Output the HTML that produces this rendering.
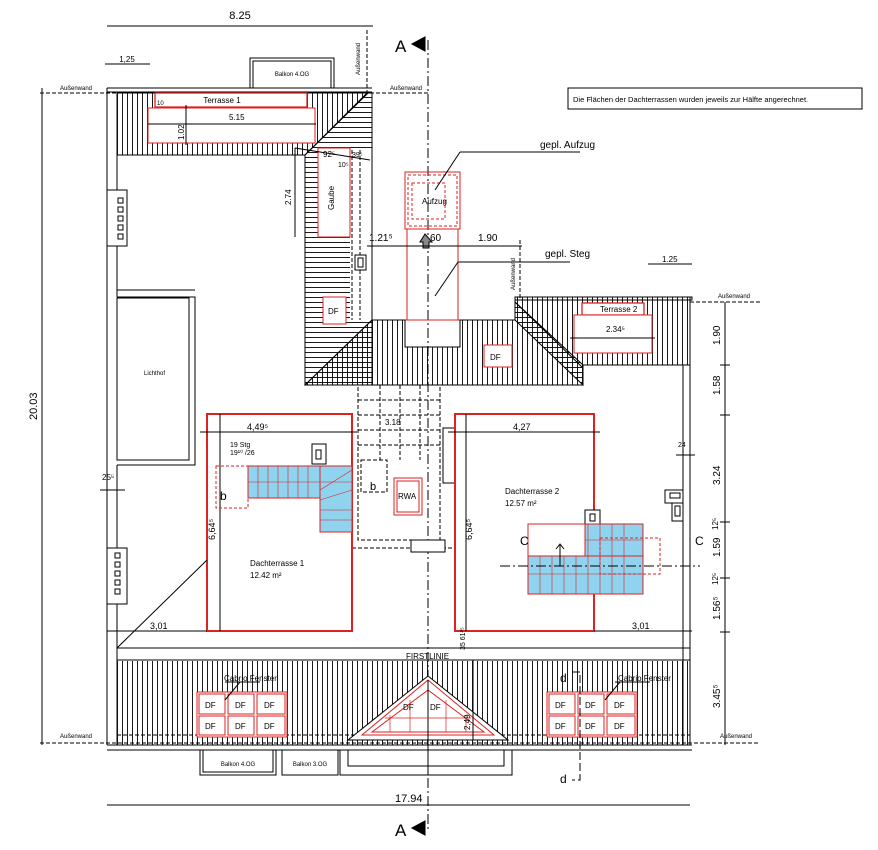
<!DOCTYPE html>
<html><head><meta charset="utf-8"><style>
html,body{margin:0;padding:0;background:#fff;}
svg{display:block;font-family:"Liberation Sans",sans-serif;}
</style></head><body>
<svg width="878" height="850" viewBox="0 0 878 850" xmlns="http://www.w3.org/2000/svg">
<defs>
<pattern id="vh" width="5" height="10" patternUnits="userSpaceOnUse"><line x1="2.5" y1="0" x2="2.5" y2="10" stroke="#000" stroke-width="0.9"/></pattern>
<pattern id="hh" width="10" height="5" patternUnits="userSpaceOnUse"><line x1="0" y1="2.5" x2="10" y2="2.5" stroke="#000" stroke-width="0.9"/></pattern>
</defs>
<rect width="878" height="850" fill="#fff"/>
<g stroke="#000" fill="none" stroke-width="1">
<!-- top dims -->
<line x1="107" y1="26" x2="373" y2="26"/><text x="240" y="19" font-size="11" text-anchor="middle" stroke="none" fill="#000">8.25</text>
<line x1="105" y1="64" x2="150" y2="64"/><text x="127" y="62" font-size="8" text-anchor="middle" stroke="none" fill="#000">1,25</text>
<rect x="250" y="58" width="84" height="30"/><rect x="253" y="61" width="78" height="27"/>
<text x="292" y="76" font-size="6" text-anchor="middle" stroke="none" fill="#000">Balkon 4.OG</text>
<!-- section A -->
<line x1="428" y1="40" x2="428" y2="830" stroke-dasharray="10,3,2,3"/>
<line x1="367" y1="30" x2="367" y2="92" stroke-dasharray="4,2"/>
<text x="360" y="75" font-size="6" transform="rotate(-90 360 75)" stroke="none" fill="#000">Außenwand</text>
<text x="395" y="52" font-size="17" stroke="none" fill="#000">A</text><polygon points="412,44 425,37 425,51" fill="#000"/>
<text x="395" y="836" font-size="17" stroke="none" fill="#000">A</text><polygon points="412,828 425,821 425,835" fill="#000"/>
<!-- outer dashed walls -->
<line x1="40" y1="93" x2="430" y2="93" stroke-dasharray="4,2"/>
<text x="60" y="90" font-size="6" stroke="none" fill="#000">Außenwand</text>
<text x="390" y="90" font-size="6" stroke="none" fill="#000">Außenwand</text>
<line x1="40" y1="743" x2="760" y2="743" stroke-dasharray="4,2"/>
<text x="60" y="738" font-size="6" stroke="none" fill="#000">Außenwand</text>
<text x="720" y="738" font-size="6" stroke="none" fill="#000">Außenwand</text>
<line x1="690" y1="302" x2="760" y2="302" stroke-dasharray="4,2"/>
<text x="718" y="298" font-size="6" stroke="none" fill="#000">Außenwand</text>
<!-- note box -->
<rect x="568" y="88" width="294" height="21"/>
<text x="573" y="102" font-size="7.5" stroke="none" fill="#000">Die Flächen der Dachterrassen wurden jeweils zur Hälfte angerechnet.</text>
<!-- left dims -->
<line x1="42" y1="88" x2="42" y2="745"/><text x="37" y="420" font-size="11" transform="rotate(-90 37 420)" stroke="none" fill="#000">20.03</text>
<line x1="100" y1="490" x2="125" y2="490"/><text x="102" y="480" font-size="8" stroke="none" fill="#000">25⁵</text>
<!-- outer walls -->
<line x1="107" y1="88" x2="372" y2="88"/>
<line x1="107" y1="88" x2="107" y2="745"/><line x1="117" y1="92" x2="117" y2="297"/>
<line x1="107" y1="92" x2="372" y2="92"/>
<line x1="117" y1="465" x2="117" y2="745"/>
<!-- top hatched band -->
<polygon points="117,93 368,93 305,155 117,155" fill="url(#vh)"/>
<polygon points="368,93 372,93 372,385 305,385 305,155" fill="url(#hh)"/>
<line x1="117" y1="155" x2="305" y2="155"/>
<line x1="368" y1="92" x2="305" y2="155"/>
<line x1="305" y1="155" x2="305" y2="385"/>
<rect x="350" y="150" width="22" height="170" fill="#fff" stroke="none"/>
<line x1="352" y1="150" x2="352" y2="320" stroke-dasharray="4,2"/><line x1="360" y1="150" x2="360" y2="320" stroke-dasharray="4,2"/>
<line x1="372" y1="92" x2="372" y2="320"/>
<!-- terrasse 1 -->
<rect x="155" y="93" width="152" height="14" fill="#fff" stroke="#d22" stroke-width="1.3"/>
<text x="222" y="103" font-size="8" text-anchor="middle" stroke="none" fill="#000">Terrasse 1</text>
<rect x="148" y="108" width="167" height="35" fill="#fff" stroke="#d22"/>
<line x1="148" y1="108" x2="315" y2="108" stroke="#d22" stroke-dasharray="4,2"/>
<line x1="148" y1="124" x2="316" y2="124"/><text x="229" y="120" font-size="8" stroke="none" fill="#000">5.15</text>
<line x1="186" y1="105" x2="186" y2="145"/><text x="184" y="140" font-size="8" transform="rotate(-90 184 140)" stroke="none" fill="#000">1.02</text>
<text x="157" y="105" font-size="6" stroke="none" fill="#000">10</text>
<!-- gaube -->
<rect x="318" y="148" width="32" height="89" fill="#fff" stroke="#d22"/>
<text x="334" y="210" font-size="8" transform="rotate(-90 334 210)" stroke="none" fill="#000">Gaube</text>
<text x="323" y="157" font-size="8" stroke="none" fill="#000">92⁵</text><text x="338" y="167" font-size="7" stroke="none" fill="#000">10⁵</text><text x="352" y="157" font-size="7" stroke="none" fill="#000">39⁵</text>
<line x1="295" y1="148" x2="370" y2="160"/>
<line x1="295" y1="148" x2="295" y2="237"/><text x="291" y="205" font-size="8" transform="rotate(-90 291 205)" stroke="none" fill="#000">2.74</text>
<rect x="355" y="255" width="11" height="15" fill="#fff"/><rect x="358" y="258" width="5" height="9"/>
<rect x="323" y="297" width="23" height="27" fill="#fff" stroke="#d22"/><text x="328" y="314" font-size="8" stroke="none" fill="#000">DF</text>
<!-- left side windows / lichthof -->
<rect x="107" y="190" width="20" height="56" fill="#fff"/>
<g><rect x="118" y="198" width="5" height="5"/><rect x="118" y="207" width="5" height="5"/><rect x="118" y="216" width="5" height="5"/><rect x="118" y="225" width="5" height="5"/><rect x="118" y="234" width="5" height="5"/></g>
<rect x="107" y="548" width="20" height="56" fill="#fff"/>
<g><rect x="115" y="553" width="5" height="5"/><rect x="115" y="562" width="5" height="5"/><rect x="115" y="571" width="5" height="5"/><rect x="115" y="580" width="5" height="5"/><rect x="115" y="589" width="5" height="5"/></g>
<path d="M117,297 L195,297 L195,465 L117,465"/>
<path d="M117,290 L195,290" />
<rect x="117" y="298" width="72" height="162"/>
<text x="144" y="375" font-size="6" stroke="none" fill="#000">Lichthof</text>
<!-- aufzug -->
<rect x="405" y="172" width="55" height="57" stroke="#d22"/><rect x="408" y="175" width="49" height="51" stroke="#d22" stroke-dasharray="3,2"/>
<rect x="412" y="183" width="33" height="36" stroke="#d22" stroke-dasharray="3,2"/>
<text x="422" y="204" font-size="8" stroke="none" fill="#000">Aufzug</text>
<rect x="407" y="229" width="51" height="91" stroke="#d22"/>
<rect x="405" y="320" width="55" height="27" stroke="#d22"/>
<polygon points="425,234 420,242 423,242 423,248 429,248 429,242 432,242" fill="#888"/>
<line x1="435" y1="190" x2="460" y2="152"/><line x1="460" y1="152" x2="580" y2="152"/>
<text x="540" y="148" font-size="10" stroke="none" fill="#000">gepl. Aufzug</text>
<line x1="435" y1="296" x2="458" y2="262"/><line x1="458" y1="262" x2="570" y2="262"/>
<text x="545" y="257" font-size="10" stroke="none" fill="#000">gepl. Steg</text>
<line x1="367" y1="246" x2="522" y2="246"/>
<text x="369" y="241" font-size="10" stroke="none" fill="#000">1.21⁵</text><text x="430" y="241" font-size="10" stroke="none" fill="#000">60</text><text x="478" y="241" font-size="10" stroke="none" fill="#000">1.90</text>
<line x1="520" y1="240" x2="520" y2="300" stroke-dasharray="4,2"/>
<text x="515" y="290" font-size="6" transform="rotate(-90 515 290)" stroke="none" fill="#000">Außenwand</text>
<line x1="648" y1="264" x2="692" y2="264"/><text x="662" y="262" font-size="8" stroke="none" fill="#000">1.25</text>
<!-- middle roof -->
<polygon points="372,320 405,320 405,347 460,347 460,320 515,320 515,297 690,297 690,365 583,365 583,385 305,385" fill="url(#vh)"/>
<polygon points="515,302 583,365 583,385 515,320" fill="url(#hh)"/>
<line x1="515" y1="302" x2="583" y2="368"/>
<line x1="372" y1="320" x2="305" y2="385"/>
<line x1="305" y1="385" x2="583" y2="385"/>
<rect x="515" y="297" width="177" height="3"/>
<rect x="484" y="345" width="28" height="22" fill="#fff" stroke="#d22"/><text x="490" y="360" font-size="8" stroke="none" fill="#000">DF</text>
<!-- terrasse 2 -->
<rect x="582" y="303" width="62" height="12" fill="#fff" stroke="#d22" stroke-width="1.3"/>
<text x="600" y="312" font-size="8" stroke="none" fill="#000">Terrasse 2</text>
<rect x="574" y="315" width="78" height="38" fill="#fff" stroke="#d22"/>
<line x1="570" y1="338" x2="655" y2="338"/><text x="606" y="332" font-size="8" stroke="none" fill="#000">2.34⁵</text>
<!-- right wall -->
<line x1="683" y1="365" x2="683" y2="745"/><line x1="690" y1="297" x2="690" y2="745"/>
<rect x="665" y="490" width="18" height="13" fill="#fff"/><rect x="670" y="493" width="10" height="5"/>
<rect x="672" y="503" width="11" height="18" fill="#fff"/><rect x="675" y="506" width="5" height="10"/>
<text x="678" y="447" font-size="7" stroke="none" fill="#000">24</text>
<line x1="676" y1="455" x2="695" y2="455"/>
<!-- right dims -->
<line x1="725" y1="302" x2="725" y2="745"/>
<g font-size="10" stroke="none" fill="#000">
<text x="720" y="345" transform="rotate(-90 720 345)">1.90</text>
<text x="720" y="395" transform="rotate(-90 720 395)">1.58</text>
<text x="720" y="485" transform="rotate(-90 720 485)">3.24</text>
<text x="718" y="530" transform="rotate(-90 718 530)" font-size="8">12⁵</text>
<text x="720" y="557" transform="rotate(-90 720 557)">1.59</text>
<text x="718" y="585" transform="rotate(-90 718 585)" font-size="8">12⁵</text>
<text x="720" y="620" transform="rotate(-90 720 620)">1.56⁵</text>
<text x="720" y="708" transform="rotate(-90 720 708)">3.45⁵</text>
</g>
<g stroke-width="1"><line x1="720" y1="365" x2="730" y2="365"/><line x1="720" y1="415" x2="730" y2="415"/><line x1="720" y1="522" x2="730" y2="522"/><line x1="720" y1="578" x2="730" y2="578"/><line x1="720" y1="632" x2="730" y2="632"/></g>
<!-- central stairs dashed -->
<g stroke-dasharray="4,2">
<rect x="358" y="385" width="82" height="155"/>
<rect x="361" y="460" width="26" height="32"/>
<line x1="380" y1="385" x2="380" y2="460"/><line x1="400" y1="385" x2="400" y2="460"/><line x1="420" y1="385" x2="420" y2="460"/>
<line x1="358" y1="400" x2="440" y2="400"/><line x1="358" y1="415" x2="440" y2="415"/><line x1="358" y1="430" x2="440" y2="430"/><line x1="358" y1="445" x2="440" y2="445"/>
<line x1="352" y1="548" x2="455" y2="548"/>
</g>
<rect x="394" y="478" width="28" height="37" stroke="#d22"/><rect x="397" y="481" width="22" height="31" stroke="#d22"/>
<text x="398" y="499" font-size="8" stroke="none" fill="#000">RWA</text>
<rect x="411" y="540" width="34" height="12" fill="#fff"/>
<rect x="443" y="428" width="12" height="55" fill="#fff"/>
<text x="370" y="490" font-size="11" stroke="none" fill="#000">b</text><text x="385" y="425" font-size="8" stroke="none" fill="#000">3.18</text>
<!-- dachterrasse 1 -->
<rect x="207" y="414" width="145" height="217" stroke="#d22" stroke-width="2"/>
<line x1="200" y1="432" x2="357" y2="432"/><text x="247" y="430" font-size="9" stroke="none" fill="#000">4,49⁵</text>
<line x1="220" y1="414" x2="220" y2="631"/>
<text x="230" y="447" font-size="7" stroke="none" fill="#000">19 Stg</text><text x="230" y="455" font-size="7" stroke="none" fill="#000">19¹⁰ /26</text>
<rect x="248" y="466" width="72" height="32" fill="#8fd3ee" stroke="#d22"/>
<rect x="320" y="466" width="32" height="66" fill="#8fd3ee" stroke="#d22"/>
<rect x="216" y="466" width="32" height="42" stroke="#d22" stroke-dasharray="3,2"/>
<g stroke="#d22" stroke-width="0.6"><line x1="258" y1="466" x2="258" y2="498"/><line x1="268" y1="466" x2="268" y2="498"/><line x1="278" y1="466" x2="278" y2="498"/><line x1="288" y1="466" x2="288" y2="498"/><line x1="298" y1="466" x2="298" y2="498"/><line x1="308" y1="466" x2="308" y2="498"/><line x1="320" y1="490" x2="352" y2="470"/><line x1="320" y1="500" x2="352" y2="490"/><line x1="320" y1="510" x2="352" y2="510"/><line x1="320" y1="520" x2="352" y2="520"/><line x1="248" y1="482" x2="352" y2="482"/></g>
<rect x="312" y="444" width="14" height="20" fill="#fff"/><rect x="316" y="450" width="5" height="9"/>
<text x="220" y="500" font-size="12" stroke="none" fill="#000">b</text>
<text x="250" y="566" font-size="8" stroke="none" fill="#000">Dachterrasse 1</text><text x="250" y="578" font-size="8" stroke="none" fill="#000">12.42 m²</text>
<text x="215" y="540" font-size="9" transform="rotate(-90 215 540)" stroke="none" fill="#000">6,64⁵</text>
<!-- dachterrasse 2 -->
<rect x="455" y="414" width="139" height="217" stroke="#d22" stroke-width="2"/>
<line x1="448" y1="432" x2="600" y2="432"/><text x="513" y="430" font-size="9" stroke="none" fill="#000">4,27</text>
<line x1="466" y1="414" x2="466" y2="631"/>
<text x="505" y="494" font-size="8" stroke="none" fill="#000">Dachterrasse 2</text><text x="505" y="506" font-size="8" stroke="none" fill="#000">12.57 m²</text>
<text x="472" y="540" font-size="9" transform="rotate(-90 472 540)" stroke="none" fill="#000">6,64⁵</text>
<rect x="585" y="510" width="15" height="14" fill="#fff"/><rect x="590" y="514" width="5" height="7"/>
<rect x="528" y="524" width="72" height="32" fill="#fff" stroke="#d22"/>
<rect x="585" y="524" width="58" height="32" fill="#8fd3ee" stroke="#d22"/>
<rect x="528" y="556" width="115" height="38" fill="#8fd3ee" stroke="#d22"/>
<rect x="600" y="538" width="60" height="36" stroke="#d22" stroke-dasharray="3,2"/>
<g stroke="#d22" stroke-width="0.6"><line x1="540" y1="556" x2="540" y2="594"/><line x1="552" y1="556" x2="552" y2="594"/><line x1="564" y1="556" x2="564" y2="594"/><line x1="576" y1="556" x2="576" y2="594"/><line x1="588" y1="524" x2="588" y2="594"/><line x1="600" y1="524" x2="600" y2="594"/><line x1="612" y1="524" x2="612" y2="594"/><line x1="624" y1="524" x2="624" y2="594"/><line x1="528" y1="574" x2="643" y2="574"/><line x1="585" y1="540" x2="643" y2="540"/></g>
<line x1="500" y1="566" x2="700" y2="566" stroke-dasharray="10,3,2,3"/>
<path d="M560,566 L560,545 M556,549 L560,544 L564,549"/>
<text x="520" y="545" font-size="12" stroke="none" fill="#000">C</text><text x="695" y="545" font-size="12" stroke="none" fill="#000">C</text>
<!-- 3.01 dims -->
<line x1="107" y1="631" x2="207" y2="631"/><text x="150" y="629" font-size="9" stroke="none" fill="#000">3,01</text>
<line x1="594" y1="631" x2="692" y2="631"/><text x="632" y="629" font-size="9" stroke="none" fill="#000">3,01</text>
<line x1="117" y1="648" x2="207" y2="560"/>
<!-- firstlinie & bottom roof -->
<rect x="117" y="648" width="573" height="12"/>
<text x="406" y="659" font-size="8" stroke="none" fill="#000">FIRSTLINIE</text>
<text x="465" y="650" font-size="7" transform="rotate(-90 465 650)" stroke="none" fill="#000">35 61²⁵</text>
<rect x="117" y="661" width="573" height="84" fill="url(#vh)" stroke="none"/>
<line x1="107" y1="745" x2="692" y2="745"/><line x1="107" y1="750" x2="692" y2="750"/>
<line x1="117" y1="735" x2="690" y2="735" stroke-dasharray="4,2"/>
<!-- DF groups -->
<g stroke="#d22" fill="#fff">
<rect x="197" y="692" width="90" height="45"/>
<rect x="199" y="694" width="26" height="20"/><rect x="228" y="694" width="26" height="20"/><rect x="257" y="694" width="28" height="20"/>
<rect x="199" y="716" width="26" height="19"/><rect x="228" y="716" width="26" height="19"/><rect x="257" y="716" width="28" height="19"/>
<rect x="547" y="692" width="90" height="45"/>
<rect x="549" y="694" width="26" height="20"/><rect x="578" y="694" width="26" height="20"/><rect x="607" y="694" width="28" height="20"/>
<rect x="549" y="716" width="26" height="19"/><rect x="578" y="716" width="26" height="19"/><rect x="607" y="716" width="28" height="19"/>
</g>
<g font-size="8" stroke="none" fill="#000">
<text x="205" y="708">DF</text><text x="235" y="708">DF</text><text x="264" y="708">DF</text>
<text x="205" y="729">DF</text><text x="235" y="729">DF</text><text x="264" y="729">DF</text>
<text x="555" y="708">DF</text><text x="585" y="708">DF</text><text x="614" y="708">DF</text>
<text x="555" y="729">DF</text><text x="585" y="729">DF</text><text x="614" y="729">DF</text>
<text x="224" y="681">Cabrio Fenster</text><text x="618" y="681">Cabrio Fenster</text>
</g>
<line x1="225" y1="682" x2="260" y2="682"/><line x1="240" y1="682" x2="225" y2="700"/>
<line x1="615" y1="682" x2="650" y2="682"/><line x1="620" y1="682" x2="605" y2="700"/>
<text x="560" y="682" font-size="12" stroke="none" fill="#000">d</text><text x="560" y="783" font-size="12" stroke="none" fill="#000">d</text>
<path d="M572,672 L580,672 L580,780 L572,780" stroke-dasharray="8,3"/>
<!-- dormer -->
<polygon points="428,676 348,740 508,740" fill="#fff"/>
<polygon points="428,680 362,735 494,735" stroke="#d22"/>
<polygon points="428,690 372,732 484,732" stroke="#d22"/>
<line x1="428" y1="680" x2="428" y2="775" />
<g stroke="#d22" stroke-width="0.7"><line x1="410" y1="700" x2="410" y2="732"/><line x1="446" y1="700" x2="446" y2="732"/><line x1="390" y1="715" x2="390" y2="732"/><line x1="466" y1="715" x2="466" y2="732"/><line x1="385" y1="718" x2="471" y2="718"/></g>
<text x="403" y="710" font-size="8" stroke="none" fill="#000">DF</text><text x="430" y="710" font-size="8" stroke="none" fill="#000">DF</text>
<line x1="473" y1="660" x2="473" y2="740"/>
<text x="470" y="730" font-size="8" transform="rotate(-90 470 730)" stroke="none" fill="#000">2,49</text>
<!-- balconies -->
<rect x="200" y="750" width="76" height="25"/><rect x="203" y="750" width="70" height="22"/>
<text x="238" y="766" font-size="6" text-anchor="middle" stroke="none" fill="#000">Balkon 4.OG</text>
<rect x="282" y="750" width="56" height="25"/>
<text x="310" y="766" font-size="6" text-anchor="middle" stroke="none" fill="#000">Balkon 3.OG</text>
<path d="M340,750 L340,775 L512,775 L512,750"/><path d="M348,750 L348,766 L504,766 L504,750"/>
<!-- bottom dim -->
<line x1="107" y1="805" x2="690" y2="805"/><text x="395" y="802" font-size="11" stroke="none" fill="#000">17.94</text>
</g>
</svg>
</body></html>
